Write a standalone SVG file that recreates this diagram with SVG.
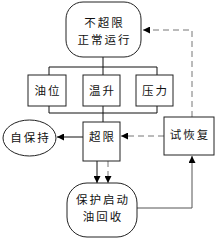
<svg xmlns="http://www.w3.org/2000/svg" width="221" height="238" viewBox="0 0 221 238">
<style>
.box{fill:#fff;stroke:#222;stroke-width:1}
.t{font-family:"Noto Sans CJK SC","Noto Sans CJK JP",sans-serif;font-size:11.5px;fill:#111;text-anchor:middle;dominant-baseline:central;letter-spacing:2px}
.ln{fill:none;stroke:#111;stroke-width:1}
.gl{fill:none;stroke:#555;stroke-width:1}
.ds{fill:none;stroke:#777;stroke-width:1;stroke-dasharray:6,4}
</style>
<defs>
<marker id="ah" viewBox="0 0 10 10" refX="10" refY="5" markerWidth="7" markerHeight="7" markerUnits="userSpaceOnUse" orient="auto">
<path d="M0,0 L10,5 L0,10 Z" fill="#000"/>
</marker>
</defs>
<g id="connectors">
<path class="ln" d="M103,57 V75 M103,106 V122"/>
<path class="ln" d="M49,75 V67 H157 V75"/>
<path class="ln" d="M49,106 V113 H157 V106"/>
<path class="ln" d="M83,137 H57" marker-end="url(#ah)"/>
<path class="ds" d="M164,136 H121" marker-end="url(#ah)"/>
<path class="ln" d="M97,161 V183" marker-end="url(#ah)"/>
<path class="ds" d="M108,161 V183" marker-end="url(#ah)"/>
<path class="gl" d="M137,208 H192 V156" marker-end="url(#ah)"/>
<path class="ds" d="M192,117 V30 H143" marker-end="url(#ah)"/>
</g>
<g id="normal">
<rect class="box" x="66" y="2" width="75" height="55" rx="17" ry="17"/>
<text class="t" x="104.5" y="22">不超限</text>
<text class="t" x="104.5" y="39">正常运行</text>
</g>
<g id="oil">
<rect class="box" x="28" y="75" width="38" height="31"/>
<text class="t" x="48" y="90">油位</text>
</g>
<g id="temp">
<rect class="box" x="83" y="75" width="37" height="31"/>
<text class="t" x="102.5" y="90">温升</text>
</g>
<g id="pressure">
<rect class="box" x="136" y="75" width="37" height="31"/>
<text class="t" x="155.5" y="90">压力</text>
</g>
<g id="exceed">
<rect class="box" x="83" y="122" width="37" height="39"/>
<text class="t" x="102.5" y="136">超限</text>
</g>
<g id="selfhold">
<ellipse class="box" cx="29.5" cy="138" rx="26.5" ry="18"/>
<text class="t" x="30.5" y="137">自保持</text>
</g>
<g id="retry">
<rect class="box" x="164" y="117" width="50" height="38"/>
<text class="t" x="190" y="134">试恢复</text>
</g>
<g id="protect">
<rect class="box" x="67" y="183" width="70" height="54" rx="20" ry="20"/>
<text class="t" x="103" y="199">保护启动</text>
<text class="t" x="103" y="216">油回收</text>
</g>
</svg>
